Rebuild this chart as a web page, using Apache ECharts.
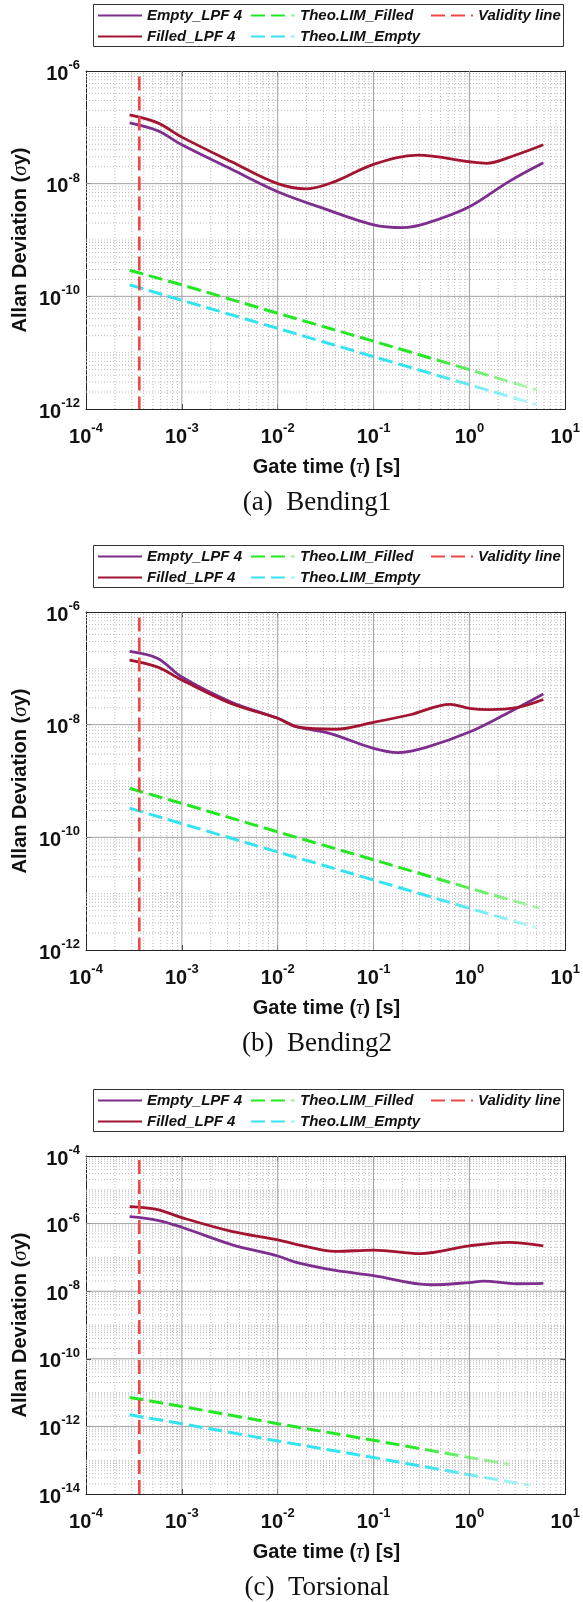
<!DOCTYPE html>
<html><head><meta charset="utf-8">
<script src="https://cdn.jsdelivr.net/npm/echarts@6/dist/echarts.min.js"></script>
<style>html,body{margin:0;padding:0;background:#fff}#c{width:583px;height:1602px}</style>
</head><body><div id="c"></div>
<script>
// ---------- Panel (a) Bending1 ----------
const tauEmptyA = [2.85e-4, 5.6e-4, 1e-3, 3.3e-3, 1e-2, 3.2e-2, 1e-1, 2e-1, 3.6e-1, 1, 2.6, 5.9];
const emptyA = [1.2e-7, 8.7e-8, 4.9e-8, 1.8e-8, 7.2e-9, 3.5e-9, 1.86e-9, 1.66e-9, 2.0e-9, 3.9e-9, 1.1e-8, 2.35e-8];
const tauFilledA = [2.85e-4, 5.6e-4, 1e-3, 3.3e-3, 1e-2, 2e-2, 4e-2, 1e-1, 2.9e-1, 1, 1.5, 3, 5.9];
const filledA = [1.66e-7, 1.2e-7, 6.7e-8, 2.45e-8, 1.0e-8, 8.1e-9, 1.1e-8, 2.2e-8, 3.2e-8, 2.45e-8, 2.3e-8, 3.2e-8, 4.9e-8];
const tauTheoFA = [2.85e-4, 1e-3, 1e-2, 1e-1, 1, 5];
const theoFilledA = [2.9e-10, 1.6e-10, 5e-11, 1.6e-11, 5e-12, 2.2e-12];
const tauTheoEA = [2.85e-4, 1e-3, 1e-2, 1e-1, 1, 5];
const theoEmptyA = [1.6e-10, 8.5e-11, 2.7e-11, 8.5e-12, 2.7e-12, 1.2e-12];
const validityA = [[3.6e-4, 8e-7], [3.6e-4, 1e-12]];

// ---------- Panel (b) Bending2 ----------
const tauEmptyB = [2.85e-4, 5.6e-4, 1e-3, 3.3e-3, 1e-2, 1.6e-2, 3.4e-2, 1e-1, 1.8e-1, 3.6e-1, 1, 2.6, 5.9];
const emptyB = [2.0e-7, 1.5e-7, 7e-8, 2.5e-8, 1.3e-8, 9.1e-9, 7.1e-9, 3.8e-9, 3.2e-9, 4.0e-9, 7.4e-9, 1.66e-8, 3.5e-8];
const tauFilledB = [2.85e-4, 5.6e-4, 1e-3, 3.3e-3, 1e-2, 1.6e-2, 4e-2, 1e-1, 2.4e-1, 6.3e-1, 1, 1.6, 3.1, 5.9];
const filledB = [1.4e-7, 1.05e-7, 6.2e-8, 2.35e-8, 1.3e-8, 9.1e-9, 8.3e-9, 1.1e-8, 1.5e-8, 2.3e-8, 1.95e-8, 1.85e-8, 2.0e-8, 2.8e-8];
const tauTheoFB = [2.85e-4, 1e-3, 1e-2, 1e-1, 1, 5.4];
const theoFilledB = [7.4e-10, 4e-10, 1.25e-10, 4e-11, 1.25e-11, 5.5e-12];
const tauTheoEB = [2.85e-4, 1e-3, 1e-2, 1e-1, 1, 5];
const theoEmptyB = [3.3e-10, 1.75e-10, 5.5e-11, 1.75e-11, 5.5e-12, 2.5e-12];
const validityB = [[3.6e-4, 8e-7], [3.6e-4, 1e-12]];

// ---------- Panel (c) Torsional ----------
const tauEmptyC = [2.85e-4, 5.6e-4, 1e-3, 3.3e-3, 1e-2, 1.6e-2, 4e-2, 1e-1, 3.9e-1, 1, 1.4, 3.1, 5.9];
const emptyC = [1.6e-6, 1.25e-6, 7.8e-7, 2.4e-7, 1.1e-7, 7e-8, 4.1e-8, 2.9e-8, 1.55e-8, 1.8e-8, 2.0e-8, 1.66e-8, 1.7e-8];
const tauFilledC = [2.85e-4, 5.6e-4, 1e-3, 3.3e-3, 1e-2, 1.6e-2, 4e-2, 1e-1, 3.1e-1, 1, 2.6, 5.9];
const filledC = [3.2e-6, 2.6e-6, 1.5e-6, 5.9e-7, 3.3e-7, 2.4e-7, 1.5e-7, 1.65e-7, 1.3e-7, 2.2e-7, 2.8e-7, 2.2e-7];
const tauTheoFC = [2.85e-4, 1e-3, 1e-2, 1e-1, 1, 2.6];
const theoFilledC = [7.2e-12, 3.9e-12, 1.2e-12, 3.9e-13, 1.2e-13, 7.5e-14];
const tauTheoEC = [2.85e-4, 1e-3, 1e-2, 1e-1, 1, 4.3];
const theoEmptyC = [2.2e-12, 1.2e-12, 3.7e-13, 1.2e-13, 3.7e-14, 1.8e-14];
const validityC = [[3.6e-4, 7.6e-5], [3.6e-4, 1e-14]];

// ---------- axes / labels ----------
const xRange = [1e-4, 10];
const yRanges = [[1e-12, 1e-6], [1e-12, 1e-6], [1e-14, 1e-4]];
const captions = ['(a)  Bending1', '(b)  Bending2', '(c)  Torsional'];
const names = { empty: 'Empty_LPF 4', filled: 'Filled_LPF 4', theoF: 'Theo.LIM_Filled', theoE: 'Theo.LIM_Empty', valid: 'Validity line' };

const panels = [
  { tE: tauEmptyA, e: emptyA, tF: tauFilledA, f: filledA, tTF: tauTheoFA, tf: theoFilledA, tTE: tauTheoEA, te: theoEmptyA, v: validityA },
  { tE: tauEmptyB, e: emptyB, tF: tauFilledB, f: filledB, tTF: tauTheoFB, tf: theoFilledB, tTE: tauTheoEB, te: theoEmptyB, v: validityB },
  { tE: tauEmptyC, e: emptyC, tF: tauFilledC, f: filledC, tTF: tauTheoFC, tf: theoFilledC, tTE: tauTheoEC, te: theoEmptyC, v: validityC }
];

// layout
const gridTops = [71, 612, 1156];
const gridH = 338;
const gridLeft = 86, gridW = 481;

const C = { empty: '#7E2F8E', filled: '#A2142F', theoF: '#22E822', theoE: '#33E3F0', valid: '#F04848' };
const FADE = { theoF: 'rgba(34,232,34,0.3)', theoE: 'rgba(51,227,240,0.3)' };
const FONT = '"Liberation Sans", Arial, sans-serif';
const SERIF = '"Liberation Serif", "DejaVu Serif", serif';
const AX = '#262626';

const zip = (a, b) => a.map((t, i) => [t, b[i]]);
const expOf = v => Math.round(Math.log10(v));
const rich = {
  b: { fontFamily: FONT, fontWeight: 'bold', fontSize: 20, color: '#111', lineHeight: 24, padding: [6, 0, 0, 0] },
  s: { fontFamily: FONT, fontWeight: 'bold', fontSize: 13, color: '#111', lineHeight: 13, verticalAlign: 'top' }
};

function vLines(vals, yr) {
  const d = [];
  vals.forEach(x => { d.push([x, yr[0]], [x, yr[1]], null); });
  return d;
}
function hLines(vals) {
  const d = [];
  vals.forEach(y => { d.push([xRange[0], y], [xRange[1], y], null); });
  return d;
}
function gridData(yr) {
  const minor = [], major = [], minorY = [], majorY = [];
  for (let k = -4; k <= 0; k++) for (let m = 2; m <= 9; m++) minor.push(m * Math.pow(10, k));
  for (let k = -3; k <= 0; k++) major.push(Math.pow(10, k));
  const y0 = expOf(yr[0]), y1 = expOf(yr[1]);
  for (let k = y0; k < y1; k++) {
    for (let m = 2; m <= 9; m++) minorY.push(m * Math.pow(10, k));
    if (k > y0) ((k % 2 === 0) ? majorY : minorY).push(Math.pow(10, k));
  }
  return {
    minor: vLines(minor, yr).concat(hLines(minorY)),
    major: vLines(major, yr).concat(hLines(majorY))
  };
}

const grid = [], xAxis = [], yAxis = [], series = [], legend = [], graphic = [];
const lineBase = { type: 'line', symbol: 'none', showSymbol: false, silent: true, animation: false, connectNulls: false };

function fadeColor(c, f) {
  return new echarts.graphic.LinearGradient(0, 0, 1, 0, [
    { offset: 0, color: c }, { offset: 0.72, color: c }, { offset: 1, color: f }
  ]);
}

panels.forEach((p, i) => {
  const top = gridTops[i];
  grid.push({ left: gridLeft, top: top, width: gridW, height: gridH, containLabel: false });
  const tick = { show: true, inside: true, length: 5, lineStyle: { color: AX, width: 1 } };
  const axLine = { show: true, lineStyle: { color: AX, width: 1 } };
  xAxis.push({
    type: 'log', logBase: 10, gridIndex: i, min: xRange[0], max: xRange[1], interval: 1, position: 'bottom',
    axisLine: axLine, axisTick: tick, splitLine: { show: false },
    axisLabel: { margin: 13, formatter: v => '{b|10}{s|' + expOf(v) + '}', rich: rich }
  });
  xAxis.push({
    type: 'log', logBase: 10, gridIndex: i, min: xRange[0], max: xRange[1], interval: 1, position: 'top',
    axisLine: axLine, axisTick: tick, splitLine: { show: false }, axisLabel: { show: false }
  });
  yAxis.push({
    type: 'log', logBase: 10, gridIndex: i, min: yRanges[i][0], max: yRanges[i][1], interval: 2, position: 'left',
    axisLine: axLine, axisTick: tick, splitLine: { show: false },
    axisLabel: { margin: 6, formatter: v => (expOf(v) % 2 === 0 ? '{b|10}{s|' + expOf(v) + '}' : ''), rich: rich }
  });
  yAxis.push({
    type: 'log', logBase: 10, gridIndex: i, min: yRanges[i][0], max: yRanges[i][1], interval: 2, position: 'right',
    axisLine: axLine, axisTick: tick, splitLine: { show: false }, axisLabel: { show: false }
  });
  const xi = 2 * i, yi = 2 * i;
  const g = gridData(yRanges[i]);
  series.push(Object.assign({}, lineBase, { name: 'gridMinor' + i, xAxisIndex: xi, yAxisIndex: yi, z: 1, lineStyle: { color: '#bcbcbc', width: 1, type: [1, 2] }, data: g.minor }));
  series.push(Object.assign({}, lineBase, { name: 'gridMajor' + i, xAxisIndex: xi, yAxisIndex: yi, z: 1, lineStyle: { color: '#a0a0a0', width: 1 }, data: g.major }));
  series.push(Object.assign({}, lineBase, { name: names.theoF, xAxisIndex: xi, yAxisIndex: yi, z: 3, color: C.theoF, lineStyle: { color: fadeColor(C.theoF, FADE.theoF), width: 3, type: [14, 6] }, data: zip(p.tTF, p.tf) }));
  series.push(Object.assign({}, lineBase, { name: names.theoE, xAxisIndex: xi, yAxisIndex: yi, z: 3, color: C.theoE, lineStyle: { color: fadeColor(C.theoE, FADE.theoE), width: 3, type: [14, 6] }, data: zip(p.tTE, p.te) }));
  series.push(Object.assign({}, lineBase, { name: names.empty, xAxisIndex: xi, yAxisIndex: yi, z: 4, smooth: 0.35, color: C.empty, lineStyle: { color: C.empty, width: 2.8 }, data: zip(p.tE, p.e) }));
  series.push(Object.assign({}, lineBase, { name: names.filled, xAxisIndex: xi, yAxisIndex: yi, z: 4, smooth: 0.35, color: C.filled, lineStyle: { color: C.filled, width: 2.8 }, data: zip(p.tF, p.f) }));
  series.push(Object.assign({}, lineBase, { name: names.valid, xAxisIndex: xi, yAxisIndex: yi, z: 5, color: C.valid, lineStyle: { color: C.valid, width: 2.6, type: [14, 6] }, data: p.v }));

  // legend
  const lt = top - 67;
  graphic.push({ type: 'rect', shape: { x: 93.5, y: lt + 0.5, width: 470, height: 42 }, style: { fill: '#fff', stroke: '#333', lineWidth: 1 }, z: 0 });
  const lstyle = { fontFamily: FONT, fontWeight: 'bold', fontStyle: 'italic', fontSize: 15, color: '#111' };
  const cols = [[names.empty, names.filled], [names.theoF, names.theoE], [names.valid]];
  const colX = [97, 250, 430];
  const colW = [44, 44, 42];
  cols.forEach((c, j) => legend.push({
    data: c.map(n => ({ name: n, itemStyle: { opacity: 0 } })), orient: 'vertical', left: colX[j], top: lt + 4, itemWidth: colW[j], itemHeight: 14, itemGap: 6,
    padding: 0, textStyle: lstyle, selectedMode: false, itemStyle: { opacity: 0 }
  }));

  // axis names and caption
  const midY = top + gridH / 2;
  const nameRich = { a: { fontFamily: FONT, fontWeight: 'bold', fontSize: 20, fill: '#111' }, i: { fontFamily: SERIF, fontStyle: 'italic', fontSize: 21, fill: '#111' } };
  graphic.push({ type: 'text', x: 20, y: midY, rotation: Math.PI / 2, z: 10,
    style: { text: '{a|Allan Deviation (}{i|σ}{a|y)}', align: 'center', verticalAlign: 'middle', rich: nameRich } });
  graphic.push({ type: 'text', x: gridLeft + gridW / 2, y: top + gridH + 58, z: 10,
    style: { text: '{a|Gate time (}{i|τ}{a|) [s]}', align: 'center', verticalAlign: 'middle', rich: nameRich } });
  graphic.push({ type: 'text', x: 317, y: top + gridH + 94, z: 10,
    style: { text: captions[i], align: 'center', verticalAlign: 'middle', font: '27px ' + SERIF, fill: '#111' } });
});

const chart = echarts.init(document.getElementById('c'), null, { renderer: 'canvas' });
chart.setOption({ animation: false, backgroundColor: '#fff', grid, xAxis, yAxis, series, legend, graphic });
</script></body></html>
